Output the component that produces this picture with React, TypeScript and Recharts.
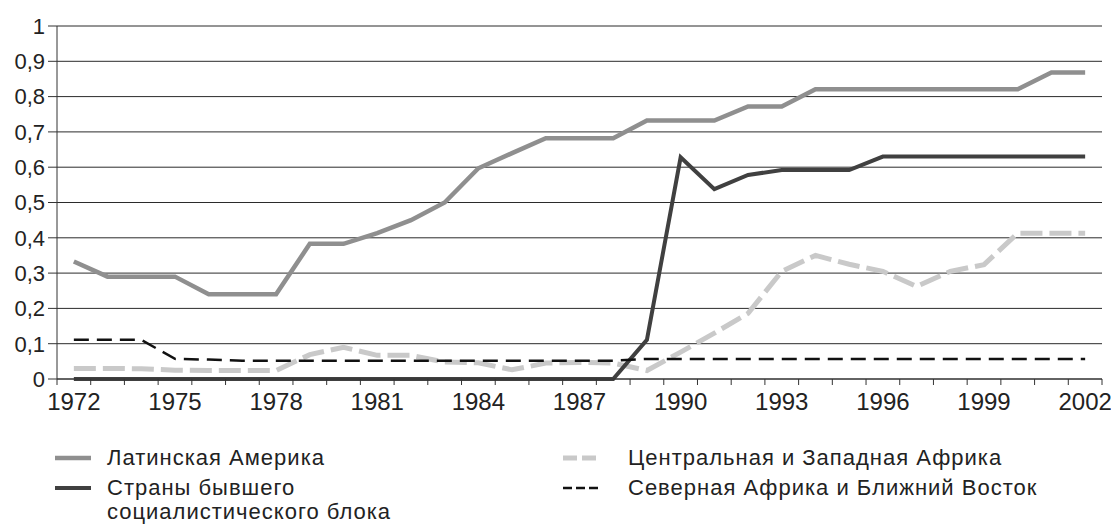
import { LineChart, Line, XAxis, YAxis, CartesianGrid } from 'recharts'

// годы 1972–2002
const years = [
  1972, 1973, 1974, 1975, 1976, 1977, 1978, 1979, 1980, 1981, 1982,
  1983, 1984, 1985, 1986, 1987, 1988, 1989, 1990, 1991, 1992, 1993,
  1994, 1995, 1996, 1997, 1998, 1999, 2000, 2001, 2002,
]

const latinAmerica = [
  0.333, 0.29, 0.29, 0.29, 0.24, 0.24, 0.24, 0.383, 0.383, 0.413, 0.45,
  0.5, 0.597, 0.64, 0.682, 0.682, 0.682, 0.732, 0.732, 0.732, 0.772, 0.772,
  0.821, 0.821, 0.821, 0.821, 0.821, 0.821, 0.821, 0.868, 0.868,
]

const formerSocialist = [
  0, 0, 0, 0, 0, 0, 0, 0, 0, 0, 0,
  0, 0, 0, 0, 0, 0, 0.111, 0.628, 0.538, 0.578, 0.592,
  0.592, 0.592, 0.63, 0.63, 0.63, 0.63, 0.63, 0.63, 0.63,
]

const centralWestAfrica = [
  0.03, 0.03, 0.029, 0.025, 0.024, 0.024, 0.024, 0.069, 0.09, 0.067, 0.067,
  0.048, 0.046, 0.026, 0.045, 0.047, 0.045, 0.024, 0.076, 0.13, 0.186, 0.305,
  0.35, 0.325, 0.305, 0.262, 0.305, 0.324, 0.413, 0.413, 0.413,
]

const northAfricaMiddleEast = [
  0.111, 0.111, 0.111, 0.057, 0.055, 0.052, 0.052, 0.052, 0.052, 0.052, 0.052,
  0.052, 0.052, 0.052, 0.052, 0.052, 0.052, 0.057, 0.057, 0.057, 0.057, 0.057,
  0.057, 0.057, 0.057, 0.057, 0.057, 0.057, 0.057, 0.057, 0.057,
]

const yTicks = [0, 0.1, 0.2, 0.3, 0.4, 0.5, 0.6, 0.7, 0.8, 0.9, 1]
const xLabelYears = [1972, 1975, 1978, 1981, 1984, 1987, 1990, 1993, 1996, 1999, 2002]

// границы между годами — там стоят засечки оси X
const yearBounds = [...years.map((y) => y - 0.5), years[years.length - 1] + 0.5]

const data = years.map((year, i) => ({
  year,
  la: latinAmerica[i],
  soc: formerSocialist[i],
  cwa: centralWestAfrica[i],
  na: northAfricaMiddleEast[i],
}))

const SERIES = [
  { key: 'cwa', name: 'Центральная и Западная Африка', color: '#c9c9c9', width: 5, dash: '22 7', legendDash: '14 5' },
  { key: 'la', name: 'Латинская Америка', color: '#8f8f8f', width: 4.5, dash: undefined, legendDash: undefined },
  { key: 'soc', name: 'Страны бывшего\nсоциалистического блока', color: '#404040', width: 4, dash: undefined, legendDash: undefined },
  { key: 'na', name: 'Северная Африка и Ближний Восток', color: '#111111', width: 2.5, dash: '15 8', legendDash: '9 4' },
]

const LEGEND_ORDER = [
  ['la', 'cwa'],
  ['soc', 'na'],
]

const fmt = (v: number) => String(v).replace('.', ',')

// засечка на границе года, подпись — в середине года
function YearTick(props: any) {
  const { x, y, payload, width } = props
  const year = payload.value + 0.5
  if (!xLabelYears.includes(year)) return <g />
  const w = typeof width === 'number' ? width : 1045
  const half = w / years.length / 2
  return (
    <text x={x + half} y={y} dy="0.71em" textAnchor="middle" fontSize={24} fill="#222">
      {year}
    </text>
  )
}

function LegendItem({ k, gap }: { k: string; gap: number }) {
  const s = SERIES.find((x) => x.key === k)!
  return (
    <div style={{ display: 'flex', alignItems: 'flex-start' }}>
      <svg width={40} height={24} style={{ flex: 'none' }}>
        <line x1={2} y1={12} x2={38} y2={12} stroke={s.color} strokeWidth={s.width} strokeDasharray={s.legendDash} />
      </svg>
      <span style={{ marginLeft: gap, whiteSpace: 'pre-line', lineHeight: '24px' }}>{s.name}</span>
    </div>
  )
}

export default function App() {
  return (
    <div
      style={{
        position: 'absolute',
        left: 0,
        top: 0,
        width: 1111,
        height: 524,
        background: '#fff',
        overflow: 'hidden',
        fontFamily: '"Liberation Sans", Arial, sans-serif',
        color: '#222',
      }}
    >
      <LineChart width={1111} height={420} data={data} margin={{ top: 26, right: 9, left: 0, bottom: 0 }}>
        <CartesianGrid vertical={false} stroke="#2b2b2b" />
        <XAxis
          type="number"
          dataKey="year"
          domain={[yearBounds[0], yearBounds[yearBounds.length - 1]]}
          ticks={yearBounds}
          tick={YearTick}
          tickSize={6}
          tickMargin={8}
          height={41}
          stroke="#333"
          interval={0}
          allowDataOverflow
        />
        <YAxis
          domain={[0, 1]}
          ticks={yTicks}
          tickFormatter={fmt}
          width={57}
          tickSize={9}
          tickMargin={3}
          stroke="#333"
          tick={{ fontSize: 22, fill: '#222' }}
        />
        {SERIES.map((s) => (
          <Line
            key={s.key}
            type="linear"
            dataKey={s.key}
            name={s.name}
            stroke={s.color}
            strokeWidth={s.width}
            strokeDasharray={s.dash}
            dot={false}
            activeDot={false}
            isAnimationActive={false}
          />
        ))}
      </LineChart>
      <div style={{ position: 'absolute', left: 53, top: 446, fontSize: 22, letterSpacing: 1 }}>
        {LEGEND_ORDER.map((row, r) => (
          <div key={r} style={{ display: 'flex', marginBottom: 6 }}>
            <div style={{ width: 508 }}>
              <LegendItem k={row[0]} gap={14} />
            </div>
            <LegendItem k={row[1]} gap={27} />
          </div>
        ))}
      </div>
    </div>
  )
}
